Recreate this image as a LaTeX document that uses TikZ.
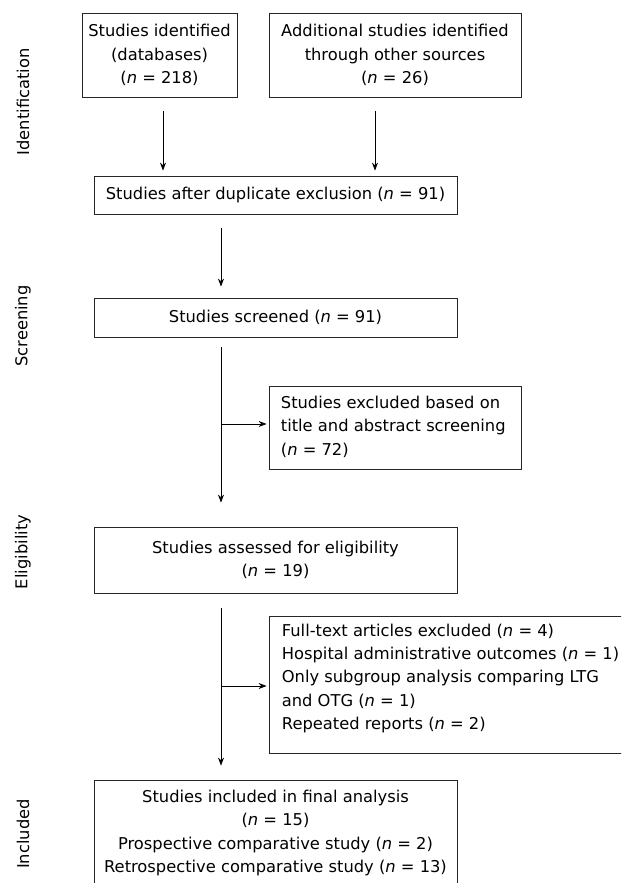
\documentclass[tikz,border=0pt]{standalone}
\usepackage{fontspec}
\setmainfont{DejaVu Sans}
\usetikzlibrary{arrows.meta,calc}
\begin{document}
\begin{tikzpicture}[x=1pt,y=-1pt,
  txt/.style={font=\fontsize{16.3}{23.3}\selectfont, inner sep=0pt, text=black},
  box/.style={txt, draw=black!85, line width=0.8pt, align=center},
  arr/.style={draw=black, line width=0.8pt, -{Stealth[length=8pt,width=6pt]}},
  stage/.style={txt, rotate=90}]
\useasboundingbox (0,0) rectangle (621,883);
\clip (0,0) rectangle (621,883);

% stage labels
\node[stage] (lid) at (23,102) {Identification};
\node[stage] (lsc) at (23,326) {Screening};
\node[stage] (lel) at (23,552) {Eligibility};
\node[stage] (lin) at (23,834) {Included};

% boxes
\node[box, minimum width=155pt, minimum height=84pt] (b1) at (159.5,55)
  {Studies identified\\(databases)\\(\textit{n} = 218)};
\node[box, minimum width=252pt, minimum height=84pt] (b2) at (395,55)
  {Additional studies identified\\through other sources\\(\textit{n} = 26)};
\node[box, minimum width=363pt, minimum height=38pt] (b3) at (275.5,195)
  {Studies after duplicate exclusion (\textit{n} = 91)};
\node[box, minimum width=363pt, minimum height=39pt] (b4) at (275.5,317.5)
  {Studies screened (\textit{n} = 91)};
\node[box, minimum width=252pt, minimum height=83pt] (b5) at (395,427.5) {};
\node[txt, anchor=west, align=left] (t5) at (280.7,426.7)
  {Studies excluded based on\\title and abstract screening\\(\textit{n} = 72)};
\node[box, minimum width=363pt, minimum height=66pt] (b6) at (275.5,560)
  {Studies assessed for eligibility\\(\textit{n} = 19)};
\node[box, minimum width=360pt, minimum height=137pt] (b7) at (449,684.5) {};
\node[txt, anchor=west, align=left] (t7) at (281.7,678.3)
  {Full-text articles excluded (\textit{n} = 4)\\
   Hospital administrative outcomes (\textit{n} = 1)\\
   Only subgroup analysis comparing LTG\\
   and OTG (\textit{n} = 1)\\
   Repeated reports (\textit{n} = 2)};
\node[box, minimum width=363pt, minimum height=106pt] (b8) at (275.5,833)
  {Studies included in final analysis\\(\textit{n} = 15)\\
   Prospective comparative study (\textit{n} = 2)\\
   Retrospective comparative study (\textit{n} = 13)};

% connectors
\coordinate (sp) at (221,0);
\draw[arr] ($(b1.south)+(3.5,14)$) -- ($(b1.south |- b3.north)+(3.5,-5)$);
\draw[arr] ($(b2.south)+(-20,14)$) -- ($(b2.south |- b3.north)+(-20,-5)$);
\draw[arr] ($(sp |- b3.south)+(0,14)$) -- ($(sp |- b4.north)+(0,-11)$);
\draw[arr] ($(sp |- b4.south)+(0,10)$) -- ($(sp |- b6.north)+(0,-24)$);
\draw[arr] ($(sp |- b5.west)+(0,-3.5)$) -- ($(b5.west)+(-2,-3.5)$);
\draw[arr] ($(sp |- b6.south)+(0,15)$) -- ($(sp |- b8.north)+(0,-14)$);
\draw[arr] ($(sp |- b7.west)+(0,1.5)$) -- ($(b7.west)+(-2,1.5)$);
\end{tikzpicture}
\end{document}
